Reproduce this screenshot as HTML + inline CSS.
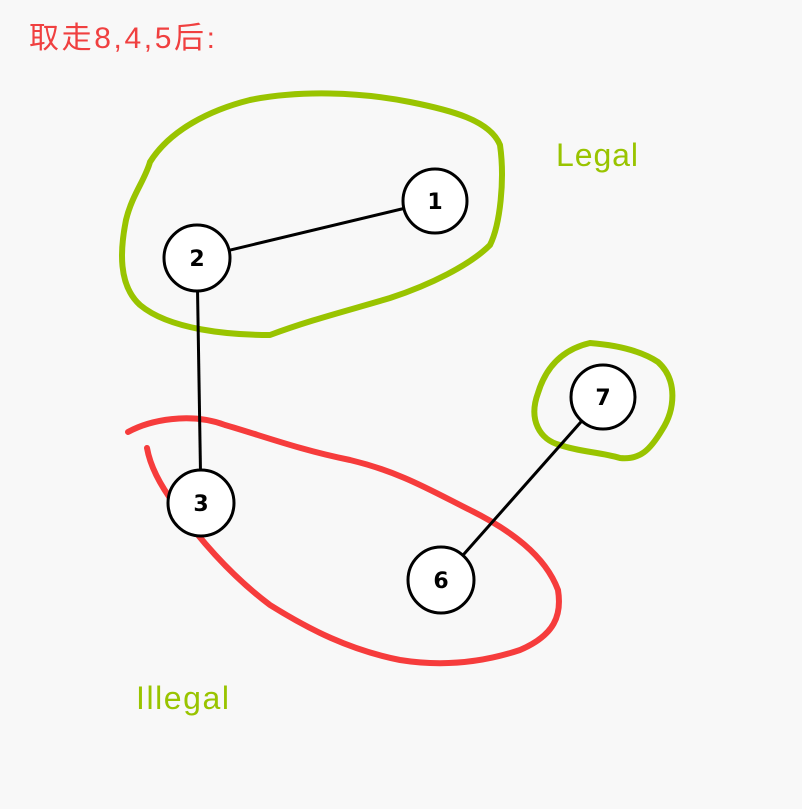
<!DOCTYPE html>
<html><head><meta charset="utf-8"><style>
html,body{margin:0;padding:0;background:#f8f8f8;}
svg{display:block}
</style></head><body>
<svg width="802" height="809" viewBox="0 0 802 809" xmlns="http://www.w3.org/2000/svg">
<rect width="802" height="809" fill="#f8f8f8"/>
<text x="29" y="48" font-family="'Liberation Sans','Noto Sans CJK SC',sans-serif" font-size="30" fill="#f04040" textLength="186">取走8,4,5后:</text>
<text x="556" y="166" font-family="'Liberation Sans',sans-serif" font-size="32" fill="#99c400" textLength="82">Legal</text>
<text x="136" y="709" font-family="'Liberation Sans',sans-serif" font-size="32" fill="#99c400" textLength="93">Illegal</text>
<path d="M150,162 C170,130 210,110 250,100 C300,90 360,92 410,102 C450,110 490,120 500,145 C505,180 500,225 490,245 C470,265 430,285 390,298 C350,310 310,320 270,335 C230,335 170,330 140,305 C118,285 120,250 126,220 C132,195 145,180 150,162 Z" fill="none" stroke="#99c400" stroke-width="6" stroke-linejoin="round"/>
<path d="M538,393 C545,370 560,350 590,343 C615,345 640,350 658,362 C678,380 675,410 662,430 C650,450 640,460 620,458 C600,452 580,452 560,445 C540,440 528,420 538,393 Z" fill="none" stroke="#99c400" stroke-width="6"/>
<path d="M128,432 C150,420 190,412 225,425 C260,435 300,450 350,460 C400,472 430,490 470,510 C510,530 545,555 558,590 C562,615 555,635 520,650 C490,660 450,668 400,660 C350,650 310,630 270,605 C230,575 200,540 175,505 C160,485 150,465 147,448" fill="none" stroke="#f63c3c" stroke-width="6" stroke-linecap="round"/>
<g stroke="#000" stroke-width="3">
<line x1="197" y1="258" x2="435" y2="201"/>
<line x1="197" y1="258" x2="201" y2="503"/>
<line x1="441" y1="580" x2="603" y2="397"/>
</g>
<g fill="#fff" stroke="#000" stroke-width="3">
<circle cx="435" cy="201" r="32"/>
<circle cx="197" cy="258" r="33"/>
<circle cx="201" cy="503" r="33"/>
<circle cx="441" cy="580" r="33"/>
<circle cx="603" cy="397" r="32"/>
</g>
<g font-family="'DejaVu Sans','Liberation Sans',sans-serif" font-weight="bold" font-size="22" text-anchor="middle" fill="#000">
<text x="435" y="209">1</text>
<text x="197" y="266">2</text>
<text x="201" y="511">3</text>
<text x="441" y="588">6</text>
<text x="603" y="405">7</text>
</g>
</svg>
</body></html>
